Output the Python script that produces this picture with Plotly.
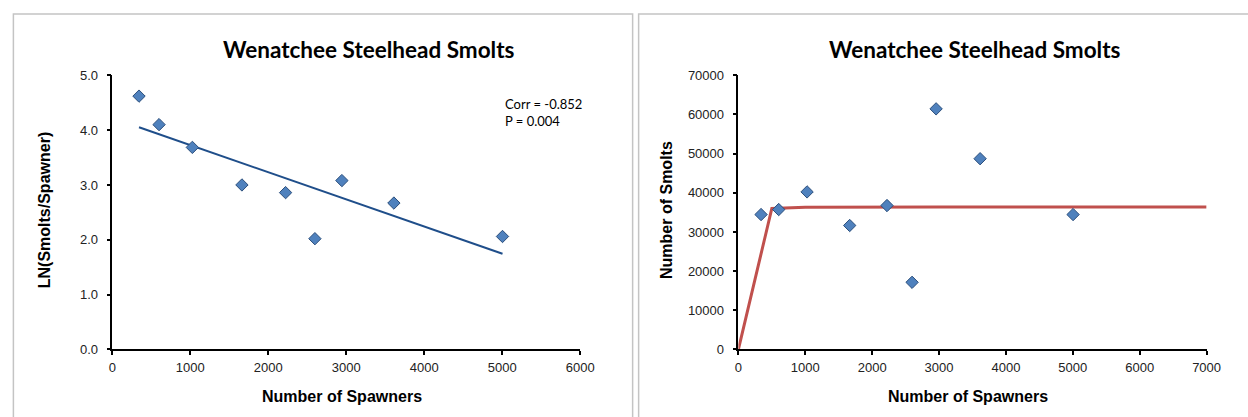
import numpy as np
import plotly.graph_objects as go

# data
spawners = [342, 599, 1026, 1662, 2222, 2598, 2944, 3611, 5004]
ln_smolts_per_spawner = [4.62, 4.10, 3.685, 3.00, 2.86, 2.02, 3.08, 2.67, 2.06]

spawners_r = [339, 603, 1027, 1664, 2222, 2597, 2956, 3614, 5004]
smolts = [34440, 35720, 40220, 31650, 36740, 17140, 61430, 48700, 34440]

curve_spawners = [0, 500, 1000, 1500, 2000, 3000, 4000, 5000, 6000, 7000]
curve_smolts = [0, 36000, 36300, 36350, 36350, 36350, 36350, 36350, 36350, 36350]

corr_text = "Corr = -0.852<br>P = 0.004"
title = "Wenatchee Steelhead Smolts"

W, H = 1248, 417
# the photographed page comes out slightly shrunk and shifted; positions
# below are target pixels in the photo, mapped back to figure pixels
SX, BX = 0.986, 2.6
SY, BY = 0.967, 6.5


def px(x):
    return ((x - BX) / SX) / W


def py(y):
    return 1 - ((y - BY) / SY) / H


# least squares trend line for the left panel
slope, intercept = np.polyfit(spawners, ln_smolts_per_spawner, 1)
trend_x = [min(spawners), max(spawners)]
trend_y = [intercept + slope * v for v in trend_x]

marker = dict(symbol="diamond", size=9.5, color="#4F81BD",
              line=dict(color="#2C4F7C", width=1))

fig = go.Figure()
fig.add_trace(go.Scatter(x=trend_x, y=trend_y, mode="lines",
                         line=dict(color="#1F4E8A", width=2),
                         xaxis="x", yaxis="y", hoverinfo="skip"))
fig.add_trace(go.Scatter(x=spawners, y=ln_smolts_per_spawner, mode="markers",
                         marker=marker, xaxis="x", yaxis="y"))
fig.add_trace(go.Scatter(x=curve_spawners, y=curve_smolts, mode="lines",
                         line=dict(color="#C0504D", width=3),
                         xaxis="x2", yaxis="y2", hoverinfo="skip"))
fig.add_trace(go.Scatter(x=spawners_r, y=smolts, mode="markers",
                         marker=marker, xaxis="x2", yaxis="y2"))

tick_font = dict(family="Liberation Sans, Arial", size=13, color="#222")
axis_common = dict(showline=True, linecolor="#000", linewidth=1.5,
                   ticks="outside", ticklen=4, tickwidth=1.5, tickcolor="#000",
                   showgrid=False, zeroline=False, tickfont=tick_font)

fig.update_layout(
    width=W, height=H,
    margin=dict(l=0, r=0, t=0, b=0),
    paper_bgcolor="white", plot_bgcolor="white",
    showlegend=False,
    xaxis=dict(domain=[px(111), px(579)], range=[0, 6000], dtick=1000,
               tickformat="d", anchor="y", ticklabelstandoff=1, **axis_common),
    yaxis=dict(domain=[py(350), py(75)], range=[0, 5], dtick=1,
               tickformat=".1f", anchor="x", ticklabelstandoff=6, **axis_common),
    xaxis2=dict(domain=[px(737.3), px(1205.7)], range=[0, 7000], dtick=1000,
                tickformat="d", anchor="y2", ticklabelstandoff=1, **axis_common),
    yaxis2=dict(domain=[py(350), py(75)], range=[0, 70000], dtick=10000,
                tickformat="d", anchor="x2", ticklabelstandoff=6, **axis_common),
)

frame = dict(color="#C4C4C4", width=1.5)
fig.add_shape(type="rect", xref="paper", yref="paper",
              x0=px(12), x1=px(631.5), y0=-0.1, y1=py(13.5), line=frame)
fig.add_shape(type="rect", xref="paper", yref="paper",
              x0=px(637.5), x1=1.1, y0=-0.1, y1=py(13.5), line=frame)

title_font = dict(family="Lato", size=22.5, color="#000")
axis_title_font = dict(family="Liberation Sans, Arial", size=16, color="#000")


def label(text, x, y, font, angle=0):
    fig.add_annotation(text=text, xref="paper", yref="paper", x=px(x), y=py(y),
                       xanchor="center", yanchor="middle", showarrow=False,
                       font=font, textangle=angle)


label("<b>" + title + "</b>", 368, 49, title_font)
label("<b>" + title + "</b>", 974, 49, title_font)
label("<b>Number of Spawners</b>", 341, 397, axis_title_font)
label("<b>Number of Spawners</b>", 967, 397, axis_title_font)
label("<b>LN(Smolts/Spawner)</b>", 43, 210, axis_title_font, -90)
label("<b>Number of Smolts</b>", 666, 210, axis_title_font, -90)

fig.add_annotation(text=corr_text, xref="paper", yref="paper",
                   x=px(502), y=py(112), xanchor="left", yanchor="middle",
                   align="left", showarrow=False,
                   font=dict(family="Lato", size=13, color="#000"))

# drop the page margin and scrollbars so the figure sits exactly in the window
page_fix = (
    "document.documentElement.style.overflow='hidden';"
    "document.body.style.margin='0';"
    "document.body.style.overflow='hidden';"
    "var d=document.getElementById('{plot_id}');"
    "d.parentElement.style.height='417px';"
    "d.parentElement.style.overflow='hidden';"
)

fig.write_html("out.html", post_script=page_fix,
               config={"displayModeBar": False})
